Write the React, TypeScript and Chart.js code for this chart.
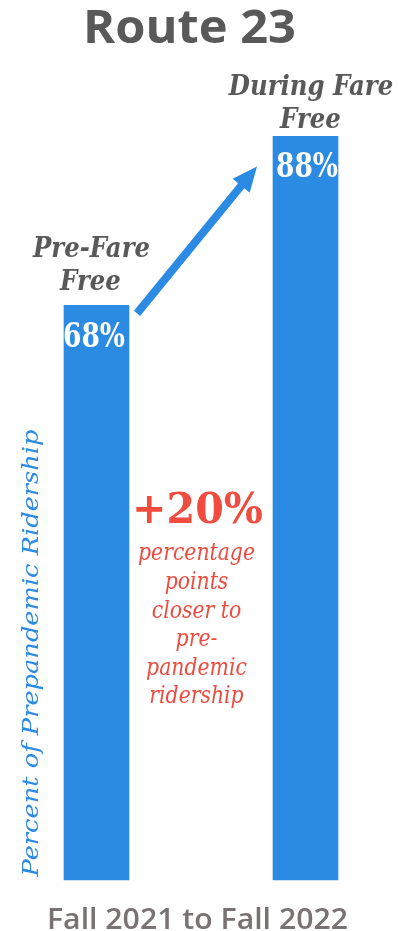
import React, { useEffect, useRef } from "react";
import { Chart, registerables } from "chart.js";

Chart.register(...registerables);

const chartTitle = "Route 23";
const categories = ["Pre-Fare Free", "During Fare Free"];
const categoryLabelLines = [["Pre-Fare", "Free"], ["During Fare", "Free"]];
const values = [68, 88];
const valueLabels = ["68%", "88%"];
const changeLabel = "+20%";
const changeNote = ["percentage", "points", "closer to", "pre-", "pandemic", "ridership"];
const xAxisTitle = "Fall 2021 to Fall 2022";
const yAxisTitle = "Percent of Prepandemic Ridership";

const BLUE = "#2B8BE3";
const RED = "#EF4B3F";
const GRAY = "#595959";
const BOTTOM_GRAY = "#787272";
const SERIF = "'DejaVu Serif', 'Liberation Serif', serif";
const SANS = "'Open Sans', 'Noto Sans', sans-serif";

function scaleFor(ctx: CanvasRenderingContext2D, font: string, ref: string, width: number) {
  ctx.font = font;
  return width / ctx.measureText(ref).width;
}

function drawScaled(ctx: CanvasRenderingContext2D, text: string, cx: number, y: number, font: string, sx: number, color: string) {
  ctx.save();
  ctx.font = font;
  ctx.fillStyle = color;
  ctx.textAlign = "center";
  ctx.textBaseline = "alphabetic";
  ctx.translate(cx, y);
  ctx.scale(sx, 1);
  ctx.fillText(text, 0, 0);
  ctx.restore();
}

const annotations = {
  id: "annotations",
  afterDatasetsDraw(chart: any) {
    const ctx: CanvasRenderingContext2D = chart.ctx;
    const meta = chart.getDatasetMeta(0);
    const b0 = meta.data[0];
    const b1 = meta.data[1];

    // title
    const tFont = `700 46px ${SANS}`;
    drawScaled(ctx, chartTitle, 189.5, 43, tFont, scaleFor(ctx, tFont, chartTitle, 213), GRAY);

    // category labels
    const cFont = `italic bold 27px ${SERIF}`;
    const cs = scaleFor(ctx, cFont, "Pre-Fare", 117);
    drawScaled(ctx, categoryLabelLines[0][0], 91.5, 257, cFont, cs, GRAY);
    drawScaled(ctx, categoryLabelLines[0][1], 90.5, 290, cFont, cs, GRAY);
    drawScaled(ctx, categoryLabelLines[1][0], 311, 95, cFont, cs, GRAY);
    drawScaled(ctx, categoryLabelLines[1][1], 310.5, 128, cFont, cs, GRAY);

    // value labels
    const vFont = `bold 33px ${SERIF}`;
    const vs = scaleFor(ctx, vFont, "68%", 62);
    drawScaled(ctx, valueLabels[0], b0.x - 2.5, b0.y + 42, vFont, vs, "#ffffff");
    drawScaled(ctx, valueLabels[1], b1.x + 1.5, b1.y + 41, vFont, vs, "#ffffff");

    // arrow
    const sx = b0.x + b0.width / 2 + 8;
    const sy = b0.y + 8;
    const ex = b1.x - b1.width / 2 - 16;
    const ey = b1.y + 30;
    const ang = Math.atan2(ey - sy, ex - sx);
    const headLen = 25;
    const headW = 11;
    const bx = ex - headLen * Math.cos(ang);
    const by = ey - headLen * Math.sin(ang);
    ctx.save();
    ctx.strokeStyle = BLUE;
    ctx.fillStyle = BLUE;
    ctx.lineWidth = 8;
    ctx.lineCap = "butt";
    ctx.beginPath();
    ctx.moveTo(sx, sy);
    ctx.lineTo(bx + 2 * Math.cos(ang), by + 2 * Math.sin(ang));
    ctx.stroke();
    ctx.beginPath();
    ctx.moveTo(ex, ey);
    ctx.lineTo(bx + headW * Math.sin(ang), by - headW * Math.cos(ang));
    ctx.lineTo(bx - headW * Math.sin(ang), by + headW * Math.cos(ang));
    ctx.closePath();
    ctx.fill();
    ctx.restore();

    // change annotation
    const pFont = `bold 43px ${SERIF}`;
    drawScaled(ctx, changeLabel, 197.5, 523, pFont, scaleFor(ctx, pFont, changeLabel, 131), RED);
    const nFont = `italic 24px ${SERIF}`;
    const ns = scaleFor(ctx, nFont, "percentage", 117);
    const baselines = [560, 589, 618, 646, 675, 703];
    changeNote.forEach((line, i) => drawScaled(ctx, line, 196.5, baselines[i], nFont, ns, RED));

    // x axis title
    const xFont = `600 29px ${SANS}`;
    drawScaled(ctx, xAxisTitle, 197.5, 929, xFont, scaleFor(ctx, xFont, xAxisTitle, 301), BOTTOM_GRAY);

    // y axis title
    const yFont = `italic 23px ${SERIF}`;
    const ys = scaleFor(ctx, yFont, yAxisTitle, 447);
    ctx.save();
    ctx.translate(38, 653);
    ctx.rotate(-Math.PI / 2);
    drawScaled(ctx, yAxisTitle, 0, 0, yFont, ys, BLUE);
    ctx.restore();
  },
};

export default function App() {
  const ref = useRef<HTMLCanvasElement | null>(null);
  useEffect(() => {
    if (!ref.current) return;
    const chart = new Chart(ref.current, {
      type: "bar",
      data: {
        labels: categories,
        datasets: [
          {
            data: values,
            backgroundColor: BLUE,
            borderWidth: 0,
            barThickness: 65,
            clip: false,
          },
        ],
      },
      options: {
        responsive: false,
        animation: false,
        devicePixelRatio: 1,
        layout: { padding: { left: 96.5, right: 92.5, top: 35, bottom: 51 } },
        plugins: { legend: { display: false }, tooltip: { enabled: false }, title: { display: false } },
        scales: {
          x: { display: false, offset: false },
          y: { display: false, min: 0, max: 100 },
        },
      },
      plugins: [annotations],
    });
    return () => chart.destroy();
  }, []);
  return (
    <div style={{ position: "absolute", left: 0, top: 0, width: 398, height: 931, background: "#fff" }}>
      <canvas ref={ref} width={398} height={931} style={{ display: "block" }} />
    </div>
  );
}
